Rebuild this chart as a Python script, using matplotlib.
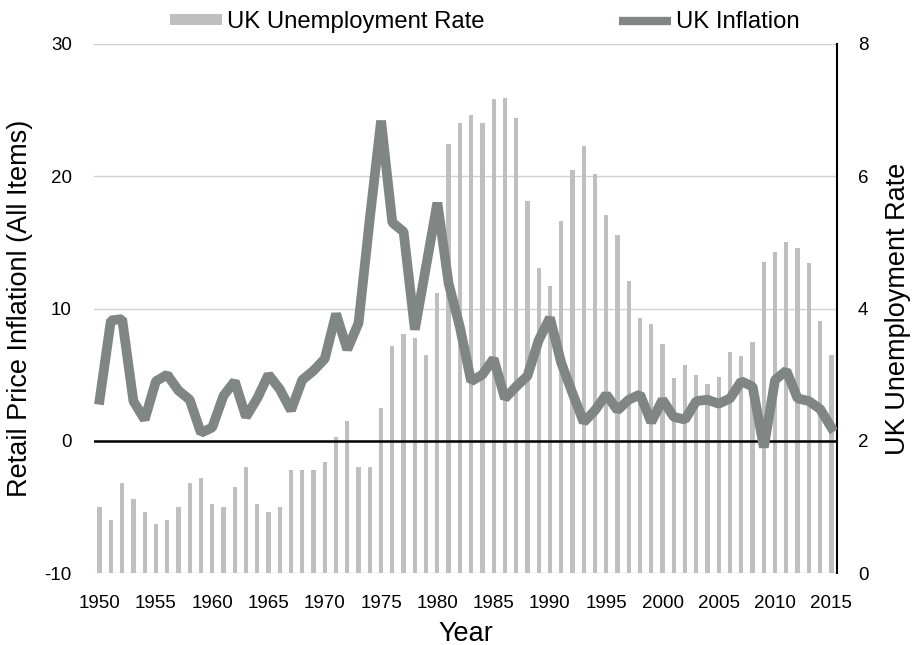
import matplotlib
matplotlib.use('Agg')
import matplotlib.pyplot as plt
import numpy as np
from matplotlib.patches import Patch
from matplotlib.lines import Line2D

plt.rcParams['font.family'] = ['Liberation Sans', 'DejaVu Sans']
plt.rcParams['axes.unicode_minus'] = False

years = np.arange(1950, 2016)

# UK unemployment rate (right axis)
unemployment = [1.00, 0.80, 1.36, 1.12, 0.92, 0.74, 0.80, 1.00, 1.36, 1.43,
                1.05, 1.00, 1.30, 1.61, 1.05, 0.92, 1.00, 1.56, 1.56, 1.56,
                1.68, 2.05, 2.30, 1.61, 1.61, 2.49, 3.43, 3.62, 3.56, 3.30,
                4.24, 6.49, 6.81, 6.92, 6.81, 7.17, 7.19, 6.88, 5.62, 4.62,
                4.34, 5.32, 6.10, 6.46, 6.03, 5.42, 5.11, 4.42, 3.86, 3.77,
                3.47, 2.95, 3.15, 3.00, 2.86, 2.96, 3.34, 3.28, 3.50, 4.70,
                4.85, 5.01, 4.92, 4.69, 3.81, 3.30]

# UK inflation, retail prices all items (left axis)
inflation = [3.1, 9.1, 9.2, 3.0, 1.6, 4.5, 5.0, 3.8, 3.1, 0.6,
             1.0, 3.4, 4.5, 1.8, 3.2, 5.0, 3.9, 2.3, 4.6, 5.3,
             6.2, 9.6, 6.9, 8.9, 16.8, 24.2, 16.5, 15.8, 8.4, 13.2,
             18.0, 11.9, 8.6, 4.5, 5.0, 6.2, 3.2, 4.1, 4.9, 7.6,
             9.3, 5.9, 3.6, 1.4, 2.3, 3.5, 2.3, 3.1, 3.5, 1.4,
             3.1, 1.8, 1.6, 3.0, 3.1, 2.8, 3.2, 4.5, 4.1, -0.5,
             4.6, 5.3, 3.2, 3.0, 2.4, 1.0]

bar_color = '#bfbfbf'
line_color = '#808683'

fig = plt.figure(figsize=(9.13, 6.45), dpi=100)
ax1 = fig.add_axes([94/913, 1-573/645, (837-94)/913, (573-44)/645])
ax2 = ax1.twinx()

# bars on the right axis, behind the line
ax2.bar(years, unemployment, width=0.38, color=bar_color, zorder=2)
ax2.set_ylim(0, 8)
ax2.set_yticks([0, 2, 4, 6, 8])
ax2.grid(axis='y', color='#d0d0d0', linewidth=1, zorder=0)
ax2.set_axisbelow(True)

ax1.set_zorder(ax2.get_zorder() + 1)
ax1.patch.set_visible(False)
ax1.plot(years, inflation, color=line_color, linewidth=7, solid_joinstyle='bevel', zorder=3)
ax1.axhline(0, color='black', linewidth=1.8, zorder=2)
ax1.set_ylim(-10, 30)
ax1.set_yticks([-10, 0, 10, 20, 30])
ax1.set_xlim(1949.5, 2015.5)
ax1.set_xticks(np.arange(1950, 2016, 5))

for ax in (ax1, ax2):
    for s in ('top', 'left', 'bottom'):
        ax.spines[s].set_visible(False)
    ax.tick_params(length=0, labelsize=13.5)
ax1.spines['right'].set_visible(False)
ax2.spines['right'].set_color('black')
ax2.spines['right'].set_linewidth(1.5)

ax1.tick_params(axis='y', pad=16)
ax2.tick_params(axis='y', pad=15)
ax1.tick_params(axis='x', pad=16)

ax1.set_xlabel('Year', fontsize=19.5, labelpad=6)
ax1.set_ylabel('Retail Price Inflationl (All Items)', fontsize=19.5, labelpad=8)
ax2.set_ylabel('UK Unemployment Rate', fontsize=19.5, labelpad=12)

handles = [Patch(facecolor=bar_color, edgecolor='none'),
           Line2D([0], [0], color=line_color, linewidth=6, solid_capstyle='butt')]
fig.legend(handles, ['UK Unemployment Rate', 'UK Inflation'], loc='center',
           bbox_to_anchor=(0.531, 0.966), ncol=2, frameon=False, fontsize=17.2,
           handlelength=2.18, handleheight=0.33, columnspacing=5.65, handletextpad=0.2)

fig.savefig('out.png', dpi=100)
